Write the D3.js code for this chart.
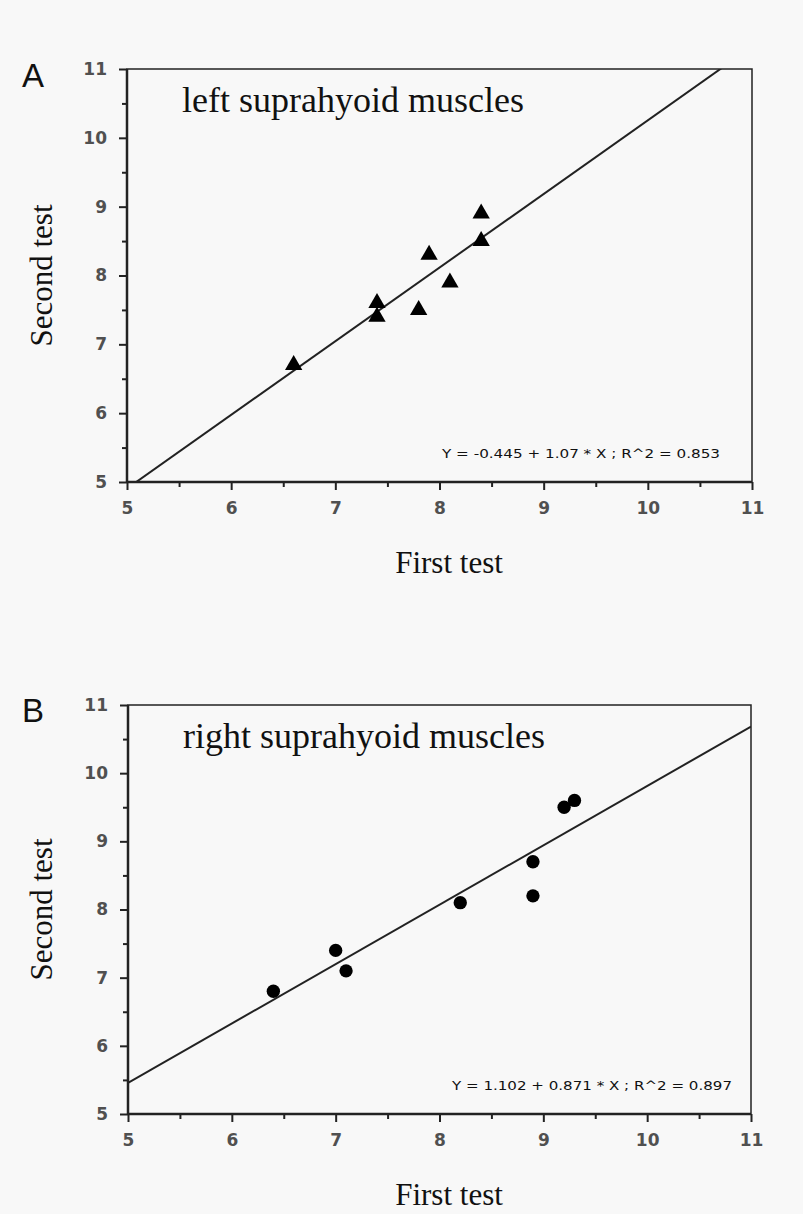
<!DOCTYPE html>
<html>
<head>
<meta charset="utf-8">
<script src="https://cdn.jsdelivr.net/npm/d3@7"></script>
<style>
  body { margin: 0; background: #f8f8f8; }
  svg { display: block; }
</style>
</head>
<body>
<div id="chart"></div>
<script>
// panel A - left suprahyoid muscles (triangles)
var leftFirst  = [6.6, 7.4, 7.4, 7.8, 7.9, 8.1, 8.4, 8.4];
var leftSecond = [6.7, 7.6, 7.4, 7.5, 8.3, 7.9, 8.9, 8.5];
var leftFit = { intercept: -0.445, slope: 1.07 };
var leftEq = "Y = -0.445 + 1.07 * X ; R^2 = 0.853";

// panel B - right suprahyoid muscles (circles)
var rightFirst  = [6.4, 7.0, 7.1, 8.2, 8.9, 8.9, 9.2, 9.3];
var rightSecond = [6.8, 7.4, 7.1, 8.1, 8.7, 8.2, 9.5, 9.6];
var rightFit = { intercept: 1.102, slope: 0.871 };
var rightEq = "Y = 1.102 + 0.871 * X ; R^2 = 0.897";

var majorTicks = [5, 6, 7, 8, 9, 10, 11];
var minorTicks = [5.5, 6.5, 7.5, 8.5, 9.5, 10.5];

var width = 803, height = 1214;

var svg = d3.select('#chart').append('svg')
    .attr('width', width)
    .attr('height', height);

svg.append('rect')
    .attr('width', width)
    .attr('height', height)
    .attr('fill', '#f8f8f8');

var drawPanel = function (opt) {
    var xScale = d3.scaleLinear().domain([5, 11]).range([opt.left, opt.right]);
    var yScale = d3.scaleLinear().domain([5, 11]).range([opt.bottom, opt.top]);

    var g = svg.append('g');

    // minor ticks first, then the major ones with labels
    var xMinor = d3.axisBottom(xScale).tickValues(minorTicks).tickSize(5).tickFormat('');
    var yMinor = d3.axisLeft(yScale).tickValues(minorTicks).tickSize(5).tickFormat('');
    var xAxis = d3.axisBottom(xScale).tickValues(majorTicks).tickSize(8).tickPadding(12)
        .tickFormat(d3.format('d'));
    var yAxis = d3.axisLeft(yScale).tickValues(majorTicks).tickSize(8).tickPadding(12)
        .tickFormat(d3.format('d'));

    [xMinor, xAxis].forEach(function (ax) {
        g.append('g')
            .attr('transform', 'translate(0,' + opt.bottom + ')')
            .call(ax);
    });
    [yMinor, yAxis].forEach(function (ax) {
        g.append('g')
            .attr('transform', 'translate(' + opt.left + ',0)')
            .call(ax);
    });

    g.selectAll('.domain').remove();
    g.selectAll('.tick line').attr('stroke', '#222').attr('stroke-width', 2);
    g.selectAll('.tick text')
        .attr('fill', '#505050')
        .style('font-family', 'DejaVu Sans, sans-serif')
        .style('font-size', '17px')
        .style('font-weight', 'bold');

    // frame
    g.append('rect')
        .attr('x', xScale(5))
        .attr('y', yScale(11))
        .attr('width', xScale(11) - xScale(5))
        .attr('height', yScale(5) - yScale(11))
        .attr('fill', 'none')
        .attr('stroke', '#222')
        .attr('stroke-width', 1.5);
    g.append('line')
        .attr('x1', xScale(5)).attr('x2', xScale(5))
        .attr('y1', yScale(11)).attr('y2', yScale(5))
        .attr('stroke', '#222').attr('stroke-width', 2.5);
    g.append('line')
        .attr('x1', xScale(5)).attr('x2', xScale(11))
        .attr('y1', yScale(5)).attr('y2', yScale(5))
        .attr('stroke', '#222').attr('stroke-width', 2.5);

    // regression line clipped to the frame
    var clipId = 'clip' + opt.id;
    svg.append('clipPath').attr('id', clipId)
        .append('rect')
        .attr('x', xScale(5))
        .attr('y', yScale(11))
        .attr('width', xScale(11) - xScale(5))
        .attr('height', yScale(5) - yScale(11));

    var fitLine = d3.line()
        .x(function (d) { return xScale(d); })
        .y(function (d) { return yScale(opt.fit.intercept + opt.fit.slope * d); });

    g.append('path')
        .attr('clip-path', 'url(#' + clipId + ')')
        .attr('fill', 'none')
        .attr('stroke', '#222')
        .attr('stroke-width', 2)
        .attr('d', fitLine([5, 11]));

    // points
    var pts = opt.xs.map(function (x, i) { return { x: x, y: opt.ys[i] }; });
    g.selectAll('.pt')
        .data(pts)
        .enter().append('path')
        .attr('class', 'pt')
        .attr('transform', function (d) {
            return 'translate(' + xScale(d.x) + ',' + yScale(d.y) + ')';
        })
        .attr('d', d3.symbol().type(opt.symbol).size(opt.symbolSize))
        .attr('fill', '#000');

    // title inside plot
    g.append('text')
        .attr('x', opt.left + 55)
        .attr('y', opt.top + 43)
        .style('font-family', 'Liberation Serif, Times New Roman, serif')
        .style('font-size', '36px')
        .attr('fill', '#111')
        .text(opt.title);

    // equation
    g.append('text')
        .attr('x', opt.eqX)
        .attr('y', opt.bottom - 24)
        .attr('textLength', opt.eqLen)
        .attr('lengthAdjust', 'spacingAndGlyphs')
        .style('font-family', 'DejaVu Sans, sans-serif')
        .style('font-size', '13px')
        .attr('fill', '#111')
        .text(opt.eq);

    // axis titles
    g.append('text')
        .attr('x', 449)
        .attr('y', opt.bottom + 91)
        .attr('text-anchor', 'middle')
        .style('font-family', 'Liberation Serif, Times New Roman, serif')
        .style('font-size', '31px')
        .attr('fill', '#111')
        .text('First test');

    g.append('text')
        .attr('transform', 'translate(52,' + (opt.top + opt.bottom) / 2 + ') rotate(-90)')
        .attr('text-anchor', 'middle')
        .style('font-family', 'Liberation Serif, Times New Roman, serif')
        .style('font-size', '31px')
        .attr('fill', '#111')
        .text('Second test');

    // panel letter
    g.append('text')
        .attr('x', 22)
        .attr('y', opt.letterY)
        .style('font-family', 'Liberation Sans, Arial, sans-serif')
        .style('font-size', '33px')
        .attr('fill', '#111')
        .text(opt.letter);
};

drawPanel({
    id: 'A', letter: 'A', letterY: 87,
    left: 127, right: 752, top: 69, bottom: 482,
    xs: leftFirst, ys: leftSecond, fit: leftFit,
    symbol: d3.symbolTriangle, symbolSize: 130,
    title: 'left suprahyoid muscles',
    eq: leftEq, eqX: 442, eqLen: 278
});

drawPanel({
    id: 'B', letter: 'B', letterY: 722,
    left: 128, right: 751, top: 705, bottom: 1114,
    xs: rightFirst, ys: rightSecond, fit: rightFit,
    symbol: d3.symbolCircle, symbolSize: 140,
    title: 'right suprahyoid muscles',
    eq: rightEq, eqX: 452, eqLen: 280
});
</script>
</body>
</html>
